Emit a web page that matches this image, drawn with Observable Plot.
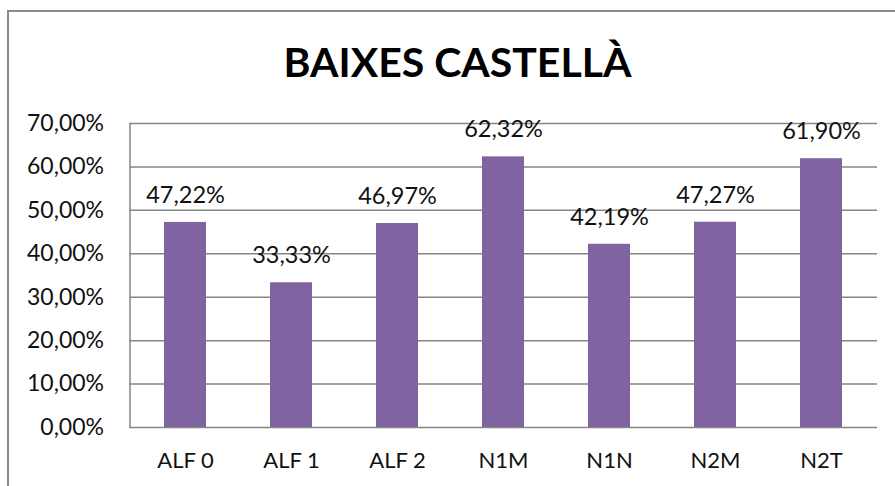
<!DOCTYPE html>
<html>
<head>
<meta charset="utf-8">
<script src="https://cdn.jsdelivr.net/npm/d3@7"></script>
<script src="https://cdn.jsdelivr.net/npm/@observablehq/plot@0.6"></script>
<style>
  html, body { margin: 0; padding: 0; background: #fff; }
  #wrap { position: relative; width: 895px; height: 486px; overflow: hidden; font-family: Lato, "Open Sans", sans-serif; }
  #border { position: absolute; left: 7px; top: 10px; width: 1000px; height: 1000px; border-left: 2px solid #8a8a8a; border-top: 2px solid #8a8a8a; box-sizing: border-box; }
  #title { position: absolute; left: 0; top: 0; width: 915px; height: 100px; text-align: center; font-weight: 700; font-size: 41px; line-height: 124px; color: #000; }
  #chart { position: absolute; left: 0; top: 100px; }
</style>
</head>
<body>
<div id="wrap">
  <div id="border"></div>
  <div id="title">BAIXES CASTELLÀ</div>
  <div id="chart"></div>
</div>
<script>
const categories = ["ALF 0", "ALF 1", "ALF 2", "N1M", "N1N", "N2M", "N2T"];
const values = [47.22, 33.33, 46.97, 62.32, 42.19, 47.27, 61.90];
const yTicks = [0, 10, 20, 30, 40, 50, 60, 70];

const data = categories.map((c, i) => ({cat: c, val: values[i]}));
const pct = v => d3.format(".2f")(v).replace(".", ",") + "%";

const chart = Plot.plot({
  width: 895,
  height: 386,
  marginTop: 23,
  marginBottom: 59,
  marginLeft: 129.5,
  marginRight: 18,
  style: {fontFamily: "Lato, 'Open Sans', sans-serif", fontSize: "23px", color: "#111", background: "transparent"},
  x: {domain: categories, paddingInner: 0.6, paddingOuter: 0.3, label: null},
  y: {domain: [0, 70], label: null},
  marks: [
    Plot.gridY(yTicks, {stroke: "#868686", strokeOpacity: 1, strokeWidth: 1.5}),
    Plot.frame({anchor: "left", stroke: "#868686", strokeWidth: 1.5}),
    Plot.barY(data, {x: "cat", y: "val", fill: "#8064A2"}),
    Plot.text(data, {x: "cat", y: "val", text: d => pct(d.val), dy: -27, fill: "#111", fontSize: 23.5}),
    Plot.axisY({ticks: yTicks, tickSize: 0, tickPadding: 26, tickFormat: pct, fontSize: 23, fill: "#111", label: null}),
    Plot.axisX({tickSize: 0, tickPadding: 25, fontSize: 22, fill: "#111", label: null})
  ]
});
document.getElementById("chart").appendChild(chart);
</script>
</body>
</html>
